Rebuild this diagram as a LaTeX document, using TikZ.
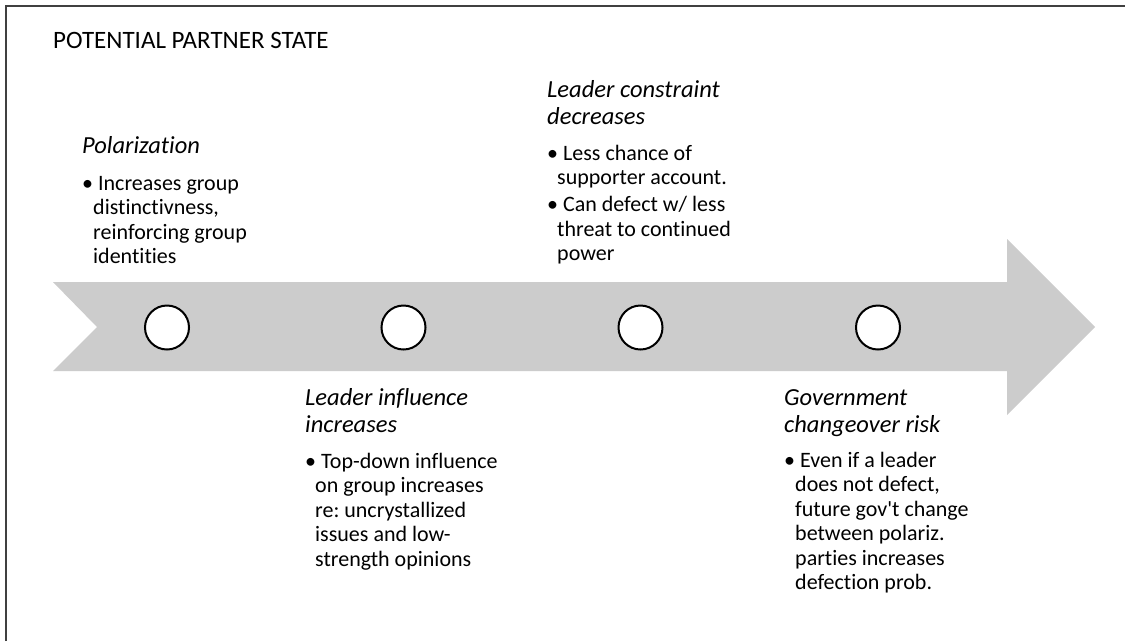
\documentclass[tikz,border=0pt]{standalone}
\usepackage{fontspec}
\setmainfont{Carlito}[Ligatures={TeX,NoCommon}]
\frenchspacing
\newcommand{\lines}[1]{\begin{tabular}[t]{@{}l@{}}#1\end{tabular}}
\begin{document}
\begin{tikzpicture}[x=1pt,y=-1pt,
  frameline/.style={draw=black!75,line width=2pt},
  band/.style={fill=black!20,draw=none},
  milestone/.style={circle,draw=black,fill=white,line width=2pt,minimum size=44pt,inner sep=0pt},
  titletext/.style={anchor=base west,inner sep=0pt,font=\fontsize{25}{28}\selectfont},
  headtext/.style={anchor=base west,inner sep=0pt,font=\fontsize{24.5}{27}\selectfont\itshape},
  bullettext/.style={anchor=base west,inner sep=0pt,font=\fontsize{22}{24.5}\selectfont}]
\useasboundingbox (0,0) rectangle (1125,641);
\fill[white] (0,0) rectangle (1125,641);

% outer frame (top and left edges)
\draw[frameline] (5.5,641) -- (5.5,5.5) -- (1125,5.5);

% timeline arrow
\path[band] (53,282) -- (1007,282) -- (1007,239) -- (1095,327) -- (1007,415)
  -- (1007,371) -- (53,371) -- (97,327) -- cycle;

% milestones
\node[milestone] (m1) at (167,327.5) {};
\node[milestone] (m2) at (403.5,327.5) {};
\node[milestone] (m3) at (640.5,327.5) {};
\node[milestone] (m4) at (878,327.5) {};

% title
\node[titletext] (title) at (53,48) {POTENTIAL PARTNER STATE};

% stage 1
\node[headtext] (h1) at (82,153) {Polarization};
\node[bullettext] (b1) at (82,190) {\lines{%
\textbullet\ Increases group\\
\hspace*{11pt}distinctivness,\\
\hspace*{11pt}reinforcing group\\
\hspace*{11pt}identities}};

% stage 2
\node[headtext] (h2) at (305,405) {\lines{Leader influence\\increases}};
\node[bullettext] (b2) at (305,468) {\lines{%
\textbullet\ Top-down influence\\
\hspace*{10pt}on group increases\\
\hspace*{10pt}re: uncrystallized\\
\hspace*{10pt}issues and low-\\
\hspace*{10pt}strength opinions}};

% stage 3
\node[headtext] (h3) at (547,97) {\lines{Leader constraint\\decreases}};
\node[bullettext] (b3) at (547,160) {\lines{%
\textbullet\ Less chance of\\
\hspace*{10pt}supporter account.\\[2.5pt]
\textbullet\ Can defect w/ less\\
\hspace*{10pt}threat to continued\\
\hspace*{10pt}power}};

% stage 4
\node[headtext] (h4) at (784,405) {\lines{Government\\changeover risk}};
\node[bullettext] (b4) at (784,467) {\lines{%
\textbullet\ Even if a leader\\
\hspace*{11pt}does not defect,\\
\hspace*{11pt}future gov\textquotesingle t change\\
\hspace*{11pt}between polariz.\\
\hspace*{11pt}parties increases\\
\hspace*{11pt}defection prob.}};
\end{tikzpicture}
\end{document}
